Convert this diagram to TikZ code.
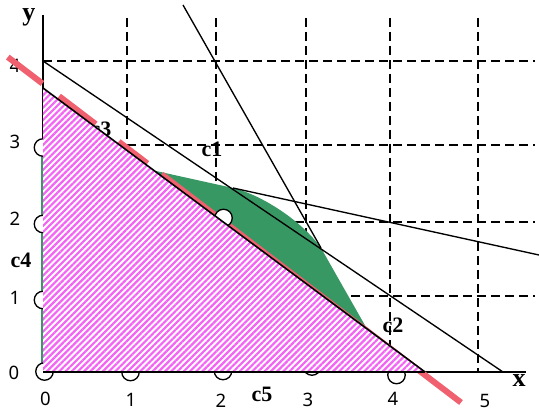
\documentclass[tikz,border=0pt]{standalone}
\usepackage{fontspec}
\newfontfamily\numfont{Noto Sans}
\newfontfamily\lblfont{Liberation Serif}
\usetikzlibrary{patterns.meta}
\definecolor{greenreg}{RGB}{56,152,100}
\definecolor{pinkstripe}{RGB}{244,100,244}
\definecolor{redline}{RGB}{240,96,110}
\tikzset{
  axisline/.style={draw=black, line width=1.4pt},
  gridline/.style={draw=black, line width=1.4pt, dash pattern=on 9pt off 5pt},
  thinline/.style={draw=black, line width=1.35pt},
  edgeline/.style={draw=black, line width=1.6pt},
  numlbl/.style={inner sep=0pt, font=\numfont\fontsize{18.5}{20}\selectfont},
  boldlbl/.style={inner sep=0pt, font=\lblfont\bfseries\fontsize{22}{24}\selectfont},
  axlbl/.style={inner sep=0pt, font=\lblfont\bfseries\fontsize{26}{28}\selectfont},
  marker/.style={circle, draw=black, fill=white, line width=1.3pt, minimum size=17.5pt, inner sep=0pt},
}
\begin{document}
\begin{tikzpicture}[x=1pt,y=-1pt]
\useasboundingbox (0,0) rectangle (539,412);
% key points
\coordinate (O) at (43,372);
\coordinate (Ytop) at (43,15);
\coordinate (Xend) at (526,372);
\coordinate (L1a) at (43,61);
\coordinate (L1b) at (503,372);
\coordinate (L2a) at (183,5);
\coordinate (L12) at (321,248);
\coordinate (L13) at (233,188);
\coordinate (L3b) at (539,255);
\coordinate (L3y) at (43,146);
\coordinate (L2x) at (391.5,372);
\coordinate (Hy) at (43,88);
\coordinate (Hx) at (425,372);
\coordinate (Rs) at (7.8,57.1);
\coordinate (Re) at (461,402.5);
% axes
\draw[axisline] (O) -- (Ytop);
\draw[axisline] (O) -- (Xend);
% grid
\foreach \gx in {127,216,306,390,478} \draw[gridline] (\gx,18) -- (\gx,372);
\foreach \gy in {61,145,222,296} \draw[gridline] (43,\gy) -- (535,\gy);
% green region
\fill[greenreg] (L3y) -- (L13) .. controls (262,195) and (302,221) .. (L12) -- (L2x) -- (O) -- cycle;
\draw[greenreg, line width=2.4pt] (42.3,146) -- (42.3,372);
% labels under the red line
\node[numlbl] (y4) at (15,66) {4};
\node[boldlbl] (c3) at (101,129) {c3};
% red line
\draw[redline, line width=6pt, dash pattern=on 43.5pt off 21pt on 46pt off 29pt on 36pt off 18pt on 400pt] (Rs) -- (Re);
% markers
\node[marker] (m0) at (44.5,371.5) {};
\node[marker] (my1) at (43,300) {};
\node[marker] (my2) at (43,224) {};
\node[marker] (my3) at (43,147.5) {};
\node[marker] (mx1) at (130.5,372) {};
\node[marker] (mx2) at (223,371) {};
\node[marker] (mx3) at (312,366.5) {};
\node[marker] (mx4) at (396.5,375) {};
\node[marker] (mh) at (223.5,218) {};
% pink region
\fill[white] (Hy) -- (Hx) -- (O) -- cycle;
\fill[pattern={Lines[angle=45,distance=4.4pt,line width=2.2pt]}, pattern color=pinkstripe] (Hy) -- (Hx) -- (O) -- cycle;
% black lines
\draw[thinline] (L1a) -- (L1b);
\draw[thinline] (L2a) -- (L12);
\draw[thinline] (L13) -- (L3b);
\draw[edgeline] (Hy) -- (Hx);
\draw[black, line width=2.4pt] (O) -- (Hx);
% tick labels
\node[numlbl] (y3) at (15,142) {3};
\node[numlbl] (y2) at (15,219) {2};
\node[numlbl] (y1) at (15,298) {1};
\node[numlbl] (y0) at (14,373) {0};
\node[numlbl] (x0) at (45.5,399) {0};
\node[numlbl] (x1) at (131,400) {1};
\node[numlbl] (x2) at (221,400.5) {2};
\node[numlbl] (x3) at (308,400) {3};
\node[numlbl] (x4) at (393,399) {4};
\node[numlbl] (x5) at (485,401) {5};
% bold labels
\node[axlbl] (ylab) at (29,17) {y};
\node[axlbl] (xlab) at (519,381) {x};
\node[boldlbl] (c1) at (212,149) {c1};
\node[boldlbl] (c2) at (393,325) {c2};
\node[boldlbl] (c4) at (21,260) {c4};
\node[boldlbl] (c5) at (262,394) {c5};
\end{tikzpicture}
\end{document}
